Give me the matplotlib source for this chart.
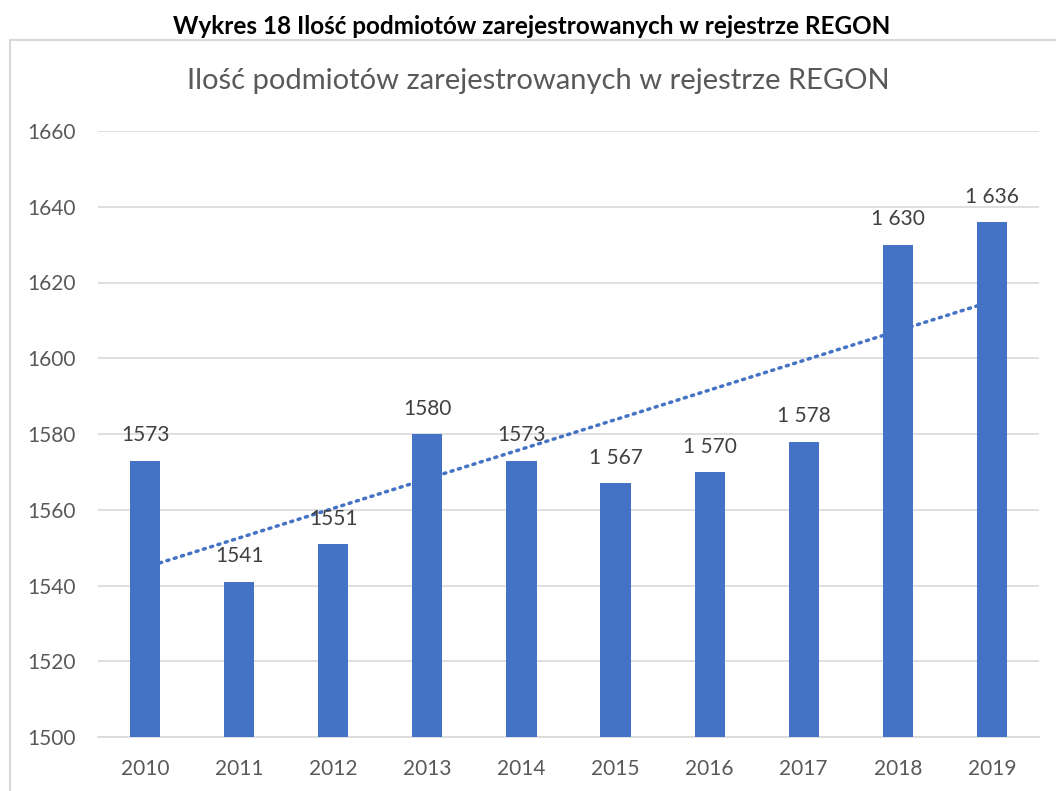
import matplotlib
matplotlib.use("Agg")
import matplotlib.pyplot as plt
from matplotlib.patches import Rectangle
import numpy as np

years = ["2010", "2011", "2012", "2013", "2014", "2015", "2016", "2017", "2018", "2019"]
values = [1573, 1541, 1551, 1580, 1573, 1567, 1570, 1578, 1630, 1636]
labels = ["1573", "1541", "1551", "1580", "1573", "1 567", "1 570", "1 578", "1 630", "1 636"]
yticks = [1500, 1520, 1540, 1560, 1580, 1600, 1620, 1640, 1660]

outer_title = "Wykres 18 Ilość podmiotów zarejestrowanych w rejestrze REGON"
inner_title = "Ilość podmiotów zarejestrowanych w rejestrze REGON"

plt.rcParams['font.family'] = ['Lato', 'DejaVu Sans']

W, H = 1056, 791
fig = plt.figure(figsize=(W / 100, H / 100), dpi=100)

# chart border
fig.add_artist(Rectangle((10 / W, -0.05), 1.2, 1 - 40 / H + 0.05, transform=fig.transFigure,
                         fill=False, edgecolor="#D9D9D9", linewidth=1.5))

ax = fig.add_axes([98 / W, 1 - 737 / H, (1039 - 98) / W, (737 - 131) / H])
x = np.arange(len(years))
bars = ax.bar(x, values, width=0.32, color="#4472C4", zorder=3)

# linear trendline
coef = np.polyfit(x, values, 1)
ax.plot(x, np.polyval(coef, x), color="#4472C4", linewidth=2.5,
        linestyle=(0, (0.6, 1.6)), dash_capstyle="round", zorder=2)

for xi, v, lab in zip(x, values, labels):
    ax.annotate(lab, (xi, v), xytext=(0, 11), textcoords="offset points",
                ha="center", va="bottom", fontsize=15, color="#404040", zorder=4)

ax.set_ylim(1500, 1660)
ax.set_xlim(-0.5, len(years) - 0.5)
ax.set_yticks(yticks)
ax.set_xticks(x)
ax.set_xticklabels(years)
ax.tick_params(length=0, labelsize=15, colors="#595959")
ax.tick_params(axis="x", pad=16)
ax.tick_params(axis="y", pad=16)
ax.grid(axis="y", color="#D9D9D9", linewidth=1.2, zorder=0)
ax.set_axisbelow(True)
for s in ["top", "right", "left"]:
    ax.spines[s].set_visible(False)
ax.spines["bottom"].set_color("#D9D9D9")
ax.spines["bottom"].set_linewidth(1.2)

fig.text(532 / W, 1 - 27 / H, outer_title, ha="center", va="center",
         fontsize=17.5, fontweight="bold", color="#000000")
fig.text(538 / W, 1 - 81 / H, inner_title, ha="center", va="center",
         fontsize=21, color="#595959")

fig.savefig("out.png", dpi=100)
